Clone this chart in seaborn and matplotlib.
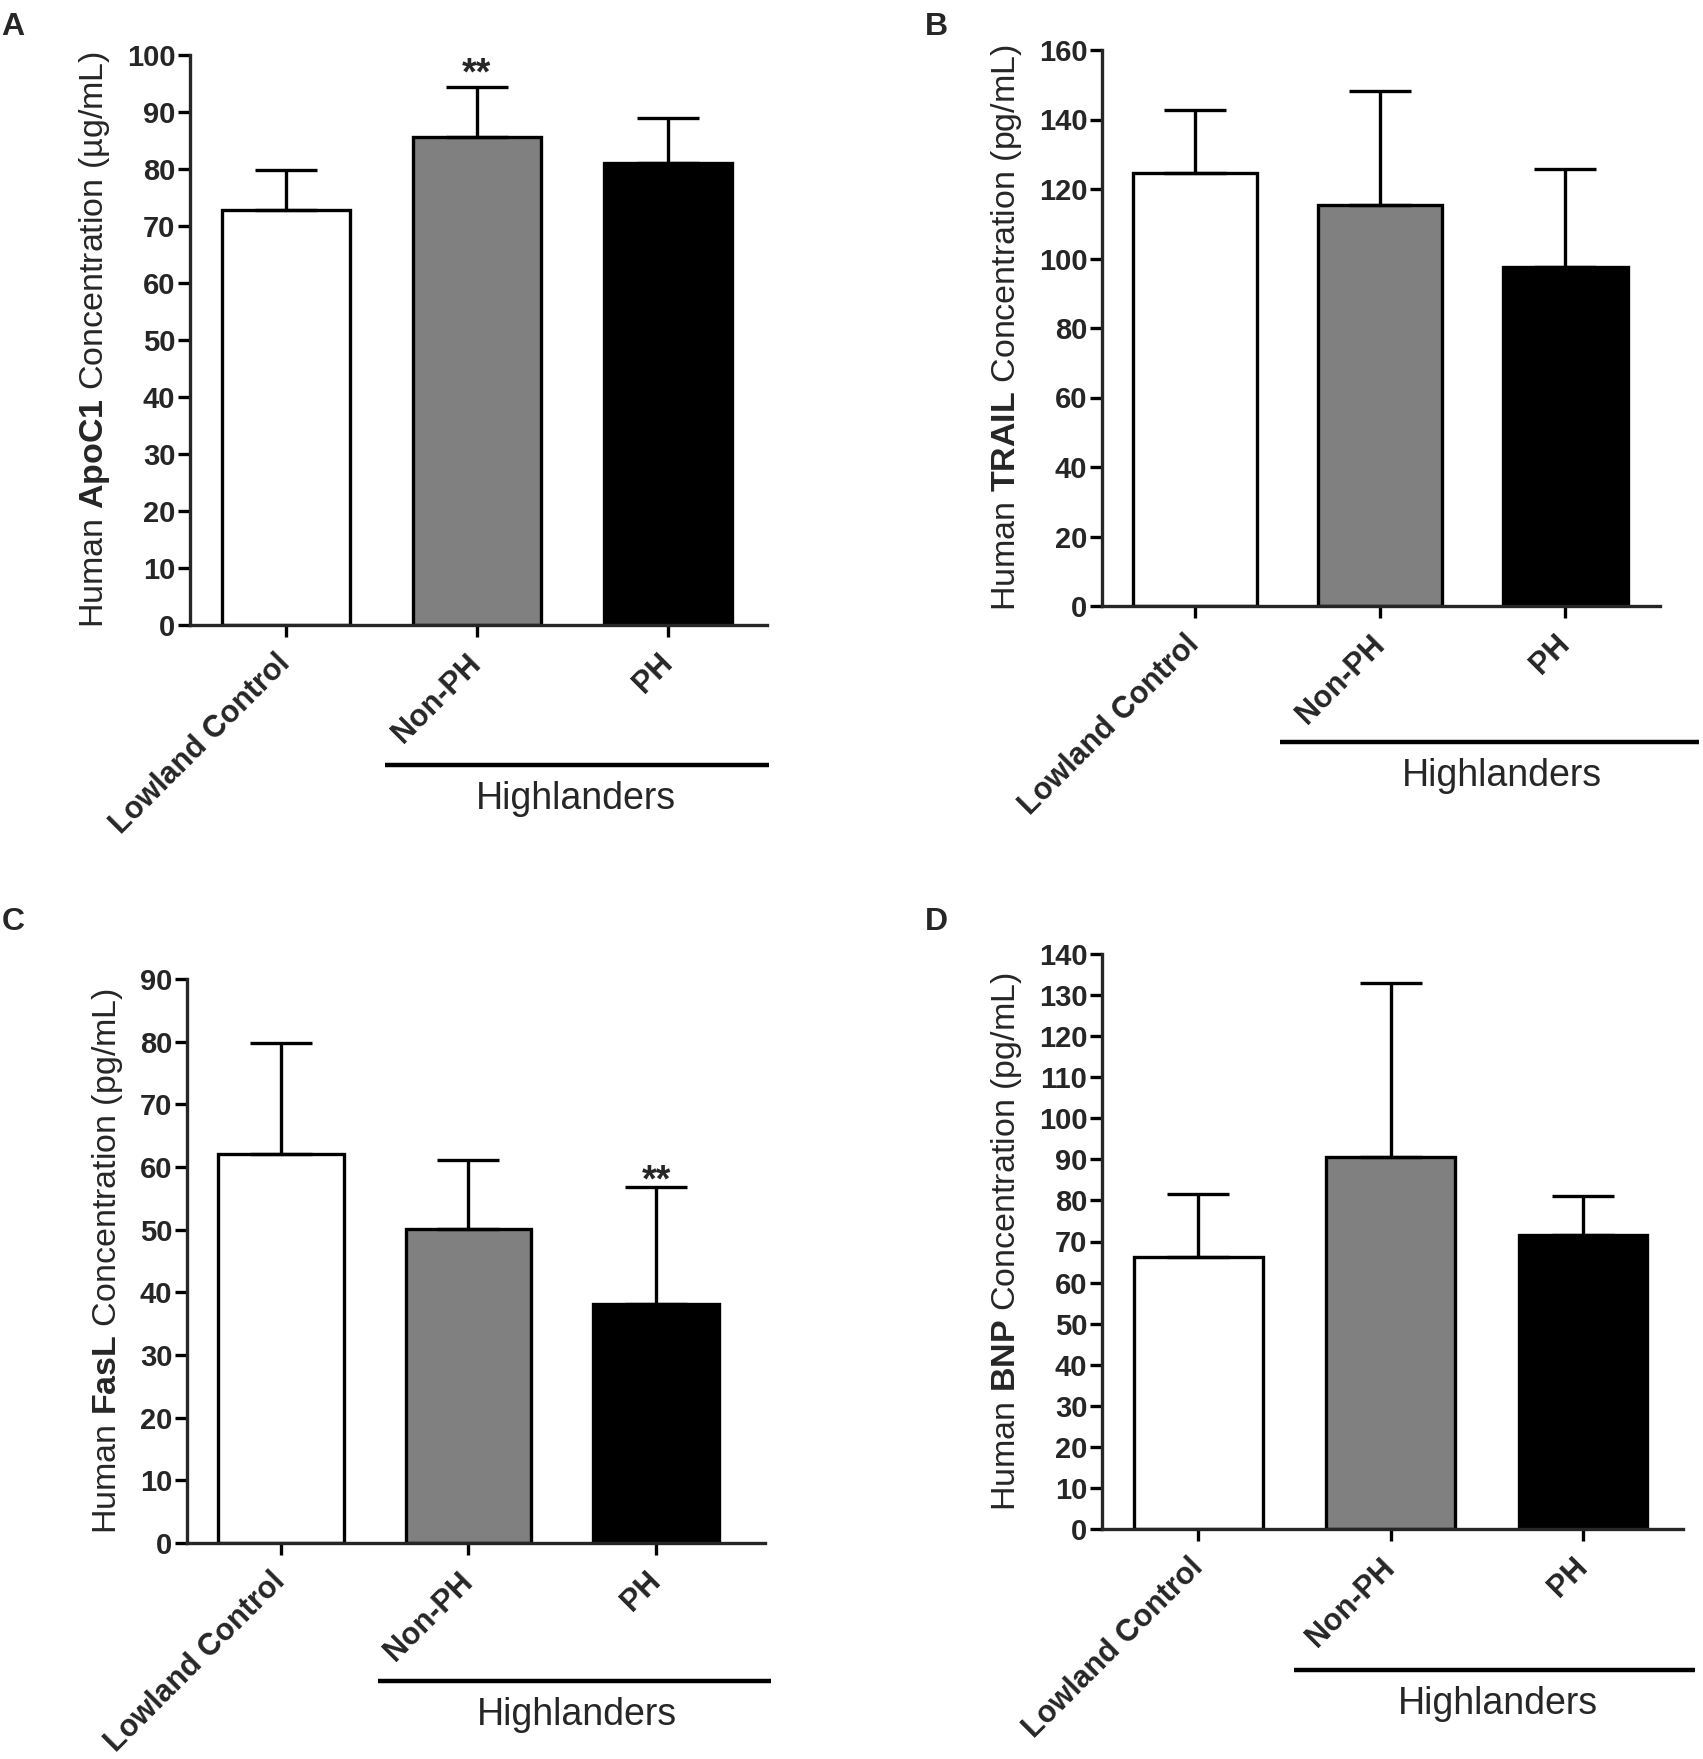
import matplotlib
matplotlib.use("Agg")
import matplotlib.pyplot as plt
import matplotlib.transforms as mtransforms
import numpy as np
import pandas as pd
import seaborn as sns

# ---------------- data ----------------
groups = ["Lowland Control", "Non-PH", "PH"]

apoc1_mean = [72.8, 85.7, 81.0]
apoc1_sd = [7.1, 8.7, 8.0]

trail_mean = [124.6, 115.4, 97.5]
trail_sd = [18.1, 32.9, 28.2]

fasl_mean = [62.0, 50.1, 38.2]
fasl_sd = [17.8, 11.0, 18.6]

bnp_mean = [66.2, 90.6, 71.6]
bnp_sd = [15.4, 42.3, 9.6]

bar_colors = ["white", "#808080", "black"]

# ---------------- style ----------------
sns.set_theme(style="ticks")
plt.rcParams["font.family"] = ["Liberation Sans", "DejaVu Sans"]
plt.rcParams["mathtext.fontset"] = "custom"
plt.rcParams["mathtext.rm"] = "Liberation Sans"
plt.rcParams["mathtext.bf"] = "Liberation Sans:bold"
plt.rcParams["mathtext.default"] = "regular"

LW = 2.4
W, H = 1703.0, 1759.0


def px_box(left, right, top, bottom):
    return [left / W, 1 - bottom / H, (right - left) / W, (bottom - top) / H]


fig = plt.figure(figsize=(17.03, 17.59), dpi=100)

panels = [
    dict(letter="A", pos=px_box(190, 767, 55, 625), xmax=2.52, mean=apoc1_mean, sd=apoc1_sd,
         ymax=100, step=10, label=r"Human $\mathbf{ApoC1}$ Concentration (µg/mL)",
         star=(1, 96.5), span=(0.52, 2.53), tx=1.52, lpos=(0.001, 0.993)),
    dict(letter="B", pos=px_box(1102, 1660, 50, 606), xmax=2.51, mean=trail_mean, sd=trail_sd,
         ymax=160, step=20, label=r"Human $\mathbf{TRAIL}$ Concentration (pg/mL)",
         star=None, span=(0.46, 2.72), tx=1.66, lpos=(0.543, 0.993)),
    dict(letter="C", pos=px_box(187, 765, 979, 1543), xmax=2.58, mean=fasl_mean, sd=fasl_sd,
         ymax=90, step=10, label=r"Human $\mathbf{FasL}$ Concentration (pg/mL)",
         star=(2, 57.7), span=(0.52, 2.61), tx=1.58, lpos=(0.001, 0.4845)),
    dict(letter="D", pos=px_box(1102, 1683, 954, 1529), xmax=2.52, mean=bnp_mean, sd=bnp_sd,
         ymax=140, step=10, label=r"Human $\mathbf{BNP}$ Concentration (pg/mL)",
         star=None, span=(0.50, 2.58), tx=1.56, lpos=(0.543, 0.4845)),
]

shift = mtransforms.ScaledTranslation(-3 / 72, 0, fig.dpi_scale_trans)

for p in panels:
    ax = fig.add_axes(p["pos"])
    df = pd.DataFrame({"group": groups, "value": p["mean"]})
    sns.barplot(data=df, x="group", y="value", hue="group", palette=bar_colors,
                edgecolor="black", linewidth=LW, width=0.67, legend=False,
                errorbar=None, saturation=1, ax=ax)
    ax.errorbar(np.arange(len(groups)), p["mean"],
                yerr=[np.zeros(len(groups)), p["sd"]], fmt="none",
                ecolor="black", elinewidth=LW, capsize=22, capthick=LW, zorder=3)
    ax.set_xlim(-0.5, p["xmax"])
    ax.set_ylim(0, p["ymax"])
    yt = np.arange(0, p["ymax"] + 1, p["step"])
    ax.set_yticks(yt)
    ax.set_yticklabels([str(int(t)) for t in yt], fontweight="bold", fontsize=21)
    ax.set_xticks(range(len(groups)))
    ax.set_xticklabels(groups, rotation=45, ha="right", va="center",
                       rotation_mode="anchor", fontweight="bold", fontsize=22)
    for lab in ax.get_xticklabels():
        lab.set_transform(lab.get_transform() + shift)
    ax.set_xlabel("")
    ax.set_ylabel(p["label"], fontsize=24.5, labelpad=11)
    sns.despine(ax=ax)
    for s in ["left", "bottom"]:
        ax.spines[s].set_linewidth(LW)
    ax.tick_params(width=LW, length=8.5, color="black")
    ax.tick_params(axis="y", pad=2)
    ax.tick_params(axis="x", pad=16)
    ax.set_facecolor("white")

    tr = mtransforms.blended_transform_factory(ax.transData, ax.transAxes)
    x0, x1 = p["span"]
    ax.plot([x0, x1], [-0.245, -0.245], transform=tr, clip_on=False,
            color="black", lw=3.2, solid_capstyle="butt")
    ax.text(p["tx"], -0.305, "Highlanders", transform=tr, ha="center",
            va="center", fontsize=27)

    if p["star"] is not None:
        ax.text(p["star"][0], p["star"][1], "**", ha="center", va="center",
                fontsize=27, fontweight="bold")

    fig.text(p["lpos"][0], p["lpos"][1], p["letter"], ha="left", va="top",
             fontsize=23, fontweight="bold")

fig.savefig("out.png", dpi=100, facecolor="white")
